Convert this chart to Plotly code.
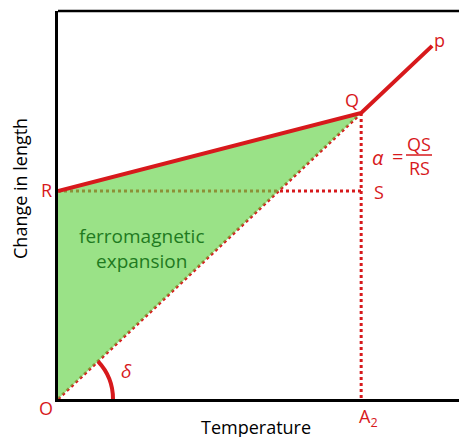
import math
import plotly.graph_objects as go

# ---- data (axis units: temperature 0..100, change in length 0..100) ----
point_names = ["O", "R", "Q", "S", "p", "A2"]
point_T = [0.0, 0.0, 75.6, 75.6, 93.3, 75.6]
point_L = [0.0, 53.6, 73.7, 53.6, 91.0, 0.0]
P = {n: (t, l) for n, t, l in zip(point_names, point_T, point_L)}

RED = "#d7191c"
GREEN_TXT = "#1f7a1f"
W, H = 459, 437
ML, MR, MT, MB = 58, 0, 11, 38
XR, YR = [0, 100], [0, 100]
PW, PH = W - ML - MR, H - MT - MB
sx = PW / (XR[1] - XR[0])   # px per x unit
sy = PH / (YR[1] - YR[0])   # px per y unit


def paper(xp, yp):
    """pixel position -> paper coords (for annotation placement)"""
    return (xp - ML) / PW, (H - MB - yp) / PH


fig = go.Figure()

# dotted construction lines
for a, b in [("O", "Q"), ("R", "S"), ("Q", "A2")]:
    fig.add_trace(go.Scatter(x=[P[a][0], P[b][0]], y=[P[a][1], P[b][1]], mode="lines",
                             line=dict(color=RED, width=3, dash="dot"), hoverinfo="skip"))

# green ferromagnetic expansion triangle
fig.add_trace(go.Scatter(x=[P["O"][0], P["R"][0], P["Q"][0], P["O"][0]],
                         y=[P["O"][1], P["R"][1], P["Q"][1], P["O"][1]],
                         mode="none", fill="toself", fillcolor="rgba(100,210,70,0.65)",
                         hoverinfo="skip"))

# solid curve R -> Q -> p
fig.add_trace(go.Scatter(x=[P["R"][0], P["Q"][0], P["p"][0]], y=[P["R"][1], P["Q"][1], P["p"][1]],
                         mode="lines", line=dict(color=RED, width=4), hoverinfo="skip"))

# angle arc delta (cubic bezier approximation in pixel space, converted to data)
r = 55.0
th = math.atan2((P["Q"][1] - P["O"][1]) * sy, (P["Q"][0] - P["O"][0]) * sx)
k = 4 / 3 * math.tan(th / 4) * r
p0 = (r, 0)
p1 = (r, k)
p3 = (r * math.cos(th), r * math.sin(th))
p2 = (p3[0] + k * math.sin(th), p3[1] - k * math.cos(th))
d = lambda q: f"{q[0] / sx:.4f},{q[1] / sy:.4f}"
fig.add_shape(type="path", xref="x", yref="y",
              path=f"M {d(p0)} C {d(p1)} {d(p2)} {d(p3)}",
              line=dict(color=RED, width=4))

# fraction bar for alpha = QS/RS
bx0, by = paper(406, 155)
bx1, _ = paper(432, 155)
fig.add_shape(type="line", xref="paper", yref="paper", x0=bx0, x1=bx1, y0=by, y1=by,
              line=dict(color=RED, width=1.5))

# top frame line
fig.add_shape(type="line", xref="paper", yref="paper", x0=0, x1=1, y0=1, y1=1,
              line=dict(color="black", width=2.5))

FONT = "Open Sans"


def label(text, xp, yp, size=18, color=RED, **kw):
    x, y = paper(xp, yp)
    fig.add_annotation(x=x, y=y, xref="paper", yref="paper", text=text, showarrow=False,
                       font=dict(family=FONT, size=size, color=color),
                       xanchor="center", yanchor="middle", **kw)


label("O", 46, 408)
label("R", 46, 190)
label("Q", 352, 100)
label("S", 379, 192)
label("p", 439, 40)
label("A<sub>2</sub>", 368, 417)
label("<i>δ</i>", 126, 371, size=19)
label("<i>α</i>", 378, 157, size=20)
label("=", 397, 156, size=20)
label("QS", 419, 144, size=18)
label("RS", 419, 168, size=18)
label("ferromagnetic<br>expansion", 141, 248, size=19, color=GREEN_TXT)
label("Temperature", 256, 427, size=18, color="black")
label("Change in length", 20, 189, size=18, color="black", textangle=-90)

fig.update_layout(
    width=W, height=H, margin=dict(l=ML, r=MR, t=MT, b=MB),
    paper_bgcolor="white", plot_bgcolor="white", showlegend=False,
    xaxis=dict(range=XR, showgrid=False, zeroline=False, showticklabels=False, ticks="",
               showline=True, linecolor="black", linewidth=2.5, fixedrange=True),
    yaxis=dict(range=YR, showgrid=False, zeroline=False, showticklabels=False, ticks="",
               showline=True, linecolor="black", linewidth=2.5, fixedrange=True),
)

fig.write_html("out.html", config={"displayModeBar": False},
               post_script="document.body.style.margin='0';document.body.style.overflow='hidden';")
